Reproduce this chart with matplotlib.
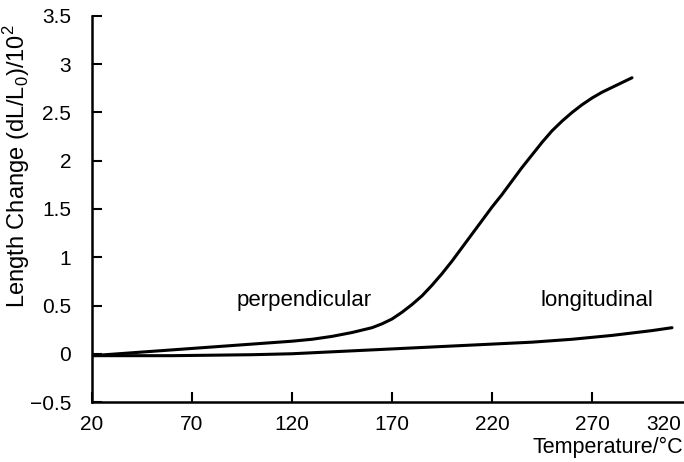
import numpy as np
import matplotlib
matplotlib.use('Agg')
import matplotlib.pyplot as plt

matplotlib.rcParams.update({'font.size': 15, 'font.family': 'Liberation Sans',
                            'mathtext.fontset': 'custom',
                            'mathtext.rm': 'Liberation Sans'})

# perpendicular direction
t_perp = [20, 30, 40, 50, 60, 70, 80, 90, 100, 110, 120, 130, 140, 150, 160,
          165, 170, 175, 180, 185, 190, 195, 200, 205, 210, 215, 220, 225,
          230, 235, 240, 245, 250, 255, 260, 265, 270, 275, 280, 285, 290]
dl_perp = [-0.02, -0.005, 0.01, 0.025, 0.04, 0.055, 0.07, 0.085, 0.10, 0.115,
           0.13, 0.15, 0.18, 0.22, 0.27, 0.31, 0.36, 0.43, 0.51, 0.60, 0.71,
           0.83, 0.96, 1.10, 1.24, 1.38, 1.52, 1.65, 1.79, 1.93, 2.06, 2.19,
           2.31, 2.41, 2.50, 2.58, 2.65, 2.71, 2.76, 2.81, 2.86]

# longitudinal direction
t_long = [20, 40, 60, 80, 100, 120, 140, 160, 180, 200, 220, 240, 260, 280,
          300, 310]
dl_long = [-0.02, -0.02, -0.02, -0.015, -0.01, 0.0, 0.02, 0.04, 0.06, 0.08,
           0.10, 0.12, 0.15, 0.19, 0.24, 0.27]

xticks = [20, 70, 120, 170, 220, 270, 306]
xticklabels = ['20', '70', '120', '170', '220', '270', '320']
yticks = [-0.5, 0, 0.5, 1, 1.5, 2, 2.5, 3, 3.5]
yticklabels = ['\u22120.5', '0', '0.5', '1', '1.5', '2', '2.5', '3', '3.5']

fig = plt.figure(figsize=(6.84, 4.62), dpi=100)
ax = fig.add_axes([92/684, 1-402/462, 591/684, 386/462])

ax.plot(t_perp, dl_perp, color='black', lw=2.2, solid_capstyle='round')
ax.plot(t_long, dl_long, color='black', lw=2.2, solid_capstyle='round')

ax.text(126, 0.55, 'perpendicular', ha='center', va='center', fontsize=16)
ax.text(272.5, 0.55, 'longitudinal', ha='center', va='center', fontsize=16)

ax.set_xlim(20, 315.5)
ax.set_ylim(-0.5, 3.5)
ax.spines['top'].set_visible(False)
ax.spines['right'].set_visible(False)
ax.spines['left'].set_linewidth(1.8)
ax.spines['bottom'].set_linewidth(1.8)

ax.set_xticks(xticks)
ax.set_xticklabels(xticklabels)
ax.set_yticks(yticks)
ax.set_yticklabels(yticklabels)
ax.tick_params(direction='in', length=7, width=1.5, labelsize=15)
ax.tick_params(axis='x', pad=9)
ax.tick_params(axis='y', pad=15)
ax.xaxis.get_major_ticks()[-1].tick1line.set_visible(False)

ax.set_xlabel('Temperature/\u00b0C', fontsize=15.5, ha='right')
ax.xaxis.set_label_coords(1.0, -0.09)
ax.set_ylabel(r'Length Change (dL/L$_\mathregular{0}$)/10$^\mathregular{2}$', fontsize=17)
ax.yaxis.set_label_coords(-0.102, 0.61)

plt.savefig('out.png', dpi=100)
